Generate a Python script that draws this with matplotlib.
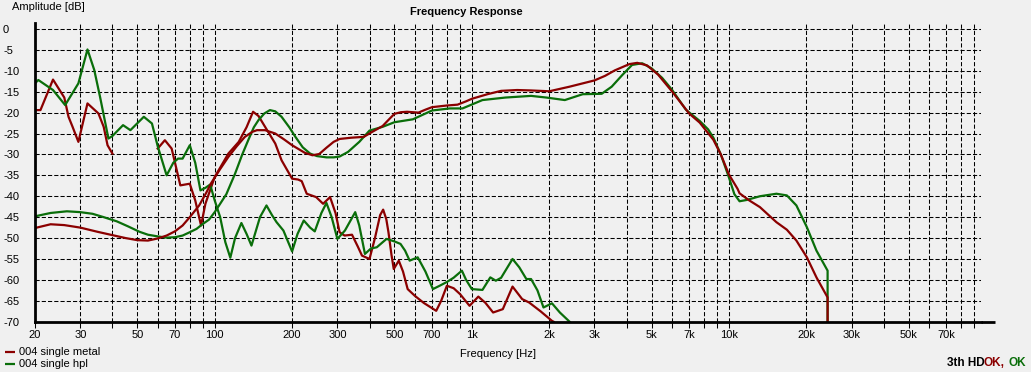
import numpy as np
import matplotlib
matplotlib.use('Agg')
import matplotlib.pyplot as plt
from matplotlib.lines import Line2D
from matplotlib.ticker import FixedLocator, FixedFormatter, NullFormatter

plt.rcParams['font.family'] = ['Liberation Sans', 'DejaVu Sans']

# ---------------- data ----------------
metal_f = [20, 23, 26, 30, 35, 40, 45, 50, 55, 60, 65, 70, 75, 80, 87, 93, 97, 105, 113, 122,
           131, 140, 146, 157, 172, 186, 200, 224, 240, 255, 272, 290, 306, 340, 380, 410, 450,
           480, 500, 530, 560, 620, 660, 700, 800, 880, 950, 1000, 1150, 1300, 1500, 1700, 2000,
           2400, 3000, 3300, 3600, 4100, 4400, 4800, 5300, 6000, 7000, 7700, 8700, 9300, 10000,
           10800, 11000, 12000, 13200, 15300, 16800, 18300, 20100, 21900, 24000, 24200, 24200]
metal_db = [-47.6, -46.7, -46.9, -47.5, -48.5, -49.3, -50.0, -50.5, -50.6, -50.1, -49.4, -48.4,
            -47.0, -45.0, -42.2, -39.0, -36.8, -33.5, -30.6, -28.0, -25.8, -24.6, -24.2, -24.2,
            -25.0, -26.4, -27.8, -29.6, -30.2, -29.9, -28.4, -27.0, -26.3, -26.0, -25.8, -24.6,
            -23.2, -21.4, -20.3, -19.9, -19.8, -20.0, -19.3, -18.7, -18.3, -18.1, -17.3, -16.7,
            -15.6, -14.8, -14.6, -14.7, -14.9, -13.8, -12.3, -11.2, -9.9, -8.4, -8.1, -8.7,
            -10.9, -14.9, -20.2, -22.4, -26.5, -30.0, -34.8, -38.2, -39.3, -41.0, -42.6, -46.2,
            -48.0, -50.6, -54.6, -59.4, -63.8, -64.2, -70.0]

hpl_f = [20, 23, 26.6, 30, 33.5, 37, 41.6, 46, 51, 55, 60, 65, 70, 75, 80, 85, 90, 95, 100, 105,
         111, 120, 128, 135, 142, 148, 156, 164, 172, 182, 195, 206, 220, 235, 250, 272, 290,
         306, 330, 365, 400, 450, 500, 590, 700, 820, 920, 1100, 1350, 1700, 1950, 2300, 2700,
         3200, 3500, 3850, 4200, 4600, 5000, 5500, 6000, 6800, 7700, 8300, 8700, 9300, 10000,
         10500, 11000, 11700, 13200, 15300, 16800, 18300, 20100, 21900, 24000, 24200, 24200]
hpl_db = [-44.8, -44.0, -43.6, -43.8, -44.2, -45.0, -46.0, -47.2, -48.5, -49.2, -49.6, -49.9,
          -49.8, -49.4, -48.6, -47.8, -46.6, -45.6, -43.8, -41.8, -39.5, -34.6, -30.0, -26.6,
          -23.5, -21.8, -20.2, -19.4, -19.7, -21.0, -23.5, -25.8, -28.3, -29.8, -30.4, -30.7,
          -30.7, -30.5, -29.4, -27.0, -24.3, -23.4, -22.3, -21.6, -19.5, -19.0, -19.0, -17.0,
          -16.4, -16.0, -16.4, -17.0, -15.6, -15.5, -13.8, -11.0, -8.6, -8.2, -9.4, -11.7,
          -14.5, -19.3, -22.0, -24.0, -26.0, -30.0, -35.5, -39.5, -41.2, -40.9, -40.0, -39.4,
          -39.8, -42.2, -47.4, -53.0, -57.4, -57.8, -70.0]

# harmonic distortion curves (NaN marks the gap in the metal trace)
metal_hd_f = [20, 21, 23.5, 26, 27, 28, 29.5, 32, 35.3, 37, 38.3, 40, 50,
              60, 64, 68, 73.5, 80, 84, 88.5, 92, 100, 113, 124, 133, 141, 148, 157, 172, 182,
              200, 211, 218, 228, 248, 264, 281, 295, 306, 320, 342, 360, 374, 400, 420, 440,
              452, 465, 474, 487, 497, 520, 540, 563, 600, 650, 727, 760, 800, 850, 900, 980,
              1060, 1130, 1210, 1320, 1440, 1570, 1670, 1850, 2050, 2080]
metal_hd_db = [-19.4, -19.4, -12.1, -16.4, -21.0, -23.4, -27.0, -17.8, -20.2, -23.4, -27.8, -29.8,
               np.nan,
               -28.6, -26.6, -28.6, -37.4, -37.0, -41.0, -47.0, -41.8, -35.4, -29.8, -27.0, -23.5,
               -19.8, -20.8, -23.4, -27.4, -31.4, -35.8, -36.0, -36.4, -39.4, -40.2, -41.8, -40.2,
               -44.0, -48.6, -49.4, -49.2, -52.0, -54.2, -55.0, -50.0, -44.5, -43.2, -45.5, -48.6,
               -54.0, -57.4, -55.4, -58.0, -62.2, -63.8, -65.5, -67.4, -65.0, -61.4, -62.0, -63.4,
               -66.2, -64.0, -65.5, -67.8, -67.0, -61.6, -64.6, -65.4, -67.5, -69.8, -70.0]

hpl_hd_f = [20, 20.6, 23.5, 26.2, 29.5, 32, 34, 35.8, 38.6, 40, 44, 47, 53, 57, 60, 65, 69, 72,
            75, 80, 84, 88, 92, 96, 100, 105, 110, 115, 120, 127, 133, 139, 150, 159, 167, 174,
            185, 200, 210, 222, 235, 245, 260, 272, 285, 300, 321, 352, 365, 384, 405, 427, 466,
            500, 528, 550, 573, 616, 660, 706, 750, 800, 849, 915, 950, 1000, 1100, 1180, 1240,
            1300, 1440, 1530, 1630, 1700, 1800, 1900, 2050, 2200, 2400]
hpl_hd_db = [-13.0, -12.2, -14.6, -18.2, -13.0, -4.9, -9.8, -16.2, -26.2, -25.6, -23.0, -24.2,
             -21.0, -22.6, -28.0, -35.0, -32.0, -31.0, -31.0, -27.8, -32.0, -38.6, -38.0, -37.2,
             -41.0, -45.0, -51.0, -54.7, -50.0, -46.4, -49.0, -51.8, -45.0, -42.2, -44.5, -46.2,
             -48.2, -53.2, -49.0, -45.8, -47.5, -48.4, -44.0, -41.6, -45.0, -50.2, -48.2, -43.8,
             -47.0, -53.8, -52.5, -52.2, -50.2, -50.8, -51.4, -53.0, -55.4, -54.6, -58.0, -62.2,
             -61.4, -60.5, -59.5, -57.8, -60.0, -62.2, -62.4, -59.4, -60.2, -59.5, -55.0, -57.0,
             -59.8, -59.8, -62.5, -66.6, -65.6, -67.8, -70.0]

major_ticks = [20, 30, 50, 70, 100, 200, 300, 500, 700, 1000, 2000, 3000, 5000, 7000,
               10000, 20000, 30000, 50000, 70000]
major_labels = ['20', '30', '50', '70', '100', '200', '300', '500', '700', '1k', '2k', '3k',
                '5k', '7k', '10k', '20k', '30k', '50k', '70k']
minor_ticks = [40, 60, 80, 90, 400, 600, 800, 900, 4000, 6000, 8000, 9000,
               40000, 60000, 80000, 90000]
y_ticks = list(range(-70, 1, 5))
y_labels = [str(v) for v in y_ticks]

series_names = ['004 single metal', '004 single hpl']
RED = '#8B0000'
GREEN = '#0A6E0A'
BG = '#F0F0F0'

# ---------------- figure ----------------
W, H = 1031, 372
fig = plt.figure(figsize=(W / 100, H / 100), dpi=100, facecolor=BG)
ax = fig.add_axes([35 / W, (H - 321.7) / H, (981 - 35) / W, (321.7 - 22.7) / H])
ax.set_facecolor(BG)
ax.set_xscale('log')
ax.set_xlim(20, 95600)
ax.set_ylim(-70, 1.5)

ax.xaxis.set_major_locator(FixedLocator(major_ticks))
ax.xaxis.set_major_formatter(FixedFormatter(major_labels))
ax.xaxis.set_minor_locator(FixedLocator(minor_ticks))
ax.xaxis.set_minor_formatter(NullFormatter())
ax.set_yticks(y_ticks)
ax.set_yticklabels(y_labels)

ax.grid(which='both', axis='x', color='black', linestyle=(0, (4, 2)), linewidth=0.75)
ax.grid(which='major', axis='y', color='black', linestyle=(0, (4, 2)), linewidth=0.75)
ax.set_axisbelow(True)

for s in ['top', 'right']:
    ax.spines[s].set_visible(False)
for s in ['left', 'bottom']:
    ax.spines[s].set_linewidth(2.0)
    ax.spines[s].set_color('black')
ax.spines['left'].set_zorder(5)
ax.spines['bottom'].set_zorder(5)

ax.tick_params(axis='x', which='both', direction='out', length=4, width=0.75,
               color='black', pad=2, labelsize=8, labelcolor='black')
ax.tick_params(axis='y', which='both', length=0, pad=23, labelsize=8, labelcolor='black')
for lab in ax.get_yticklabels():
    lab.set_horizontalalignment('left')

# extension of the bottom axis line beyond the grid
ax.plot([1.0, 1.0148], [0, 0], transform=ax.transAxes, clip_on=False,
        color='black', lw=2.0, solid_capstyle='butt', zorder=5)

# ---------------- curves ----------------
lw = 1.6
ax.plot(metal_hd_f, metal_hd_db, color=RED, lw=lw, zorder=3)
ax.plot(hpl_hd_f, hpl_hd_db, color=GREEN, lw=lw, zorder=3)
ax.plot(hpl_f, hpl_db, color=GREEN, lw=lw, zorder=3)
ax.plot(metal_f, metal_db, color=RED, lw=lw, zorder=4)

# ---------------- texts ----------------
def fx(px):
    return px / W

def fy(py):
    return 1 - py / H

fig.text(fx(466.7), fy(12), 'Frequency Response', ha='center', va='center',
         fontsize=8, fontweight='bold')
fig.text(fx(12), fy(7), 'Amplitude [dB]', ha='left', va='center', fontsize=8)
fig.text(fx(498), fy(354), 'Frequency [Hz]', ha='center', va='center', fontsize=8)

for i, (name, col) in enumerate(zip(series_names, [RED, GREEN])):
    yy = 352.3 + 12 * i
    fig.add_artist(Line2D([fx(5), fx(15)], [fy(yy), fy(yy)], color=col, lw=1.6,
                          solid_capstyle='butt'))
    fig.text(fx(19), fy(yy), name, ha='left', va='center', fontsize=8)

fig.text(fx(984.5), fy(363.5), '3th HD', ha='right', va='center', fontsize=8.5,
         fontweight='bold', color='black')
fig.text(fx(984), fy(363.5), 'OK,', ha='left', va='center', fontsize=8.5,
         fontweight='bold', color=RED)
fig.text(fx(1026.5), fy(363.5), 'OK', ha='right', va='center', fontsize=8.5,
         fontweight='bold', color=GREEN)

fig.savefig('out.png', dpi=100, facecolor=BG)
